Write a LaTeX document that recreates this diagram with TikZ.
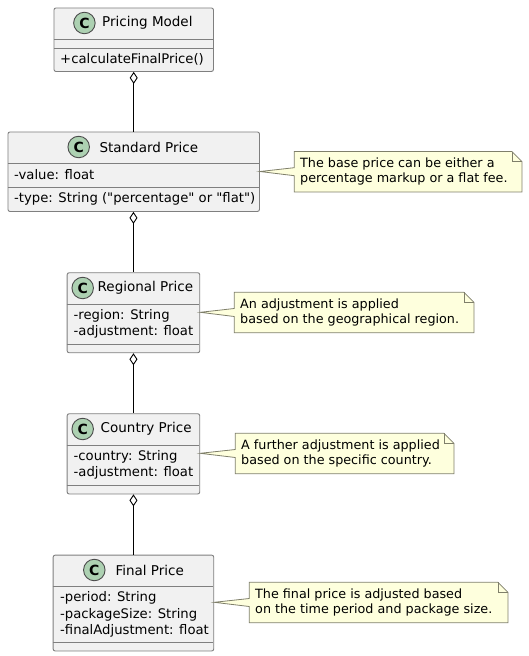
\documentclass[tikz,border=0pt]{standalone}
\usepackage{fontspec}
\newfontfamily\umlfont{DejaVu Sans}
\usetikzlibrary{arrows.meta,calc}
\definecolor{classfill}{HTML}{F1F1F1}
\definecolor{classline}{HTML}{7F7F7F}
\definecolor{spotfill}{HTML}{ADD1B2}
\definecolor{notefill}{HTML}{FEFFDD}
\definecolor{noteline}{HTML}{7F7F6A}
\tikzset{
    classbox/.style={draw=classline,fill=classfill,rounded corners=2pt,line width=.9pt,inner sep=0pt},
    classline/.style={draw=classline,line width=.9pt},
    spot/.style={circle,draw=black!70,fill=spotfill,line width=.9pt,minimum size=21.5pt,inner sep=0pt,font=\umlfont\fontsize{14}{14}\selectfont\bfseries},
    title/.style={font=\umlfont\fontsize{13.5}{16}\selectfont,inner sep=0pt,anchor=west},
    member/.style={font=\umlfont\fontsize{13.2}{16.3}\selectfont,inner sep=0pt,anchor=west,align=left},
    notetext/.style={font=\umlfont\fontsize{12.75}{15.2}\selectfont,inner sep=0pt,anchor=west,align=left},
    notebox/.style={inner sep=0pt},
    notepath/.style={draw=noteline,fill=notefill,line width=.8pt},
    aggregate/.style={{Diamond[open,length=12pt,width=8pt,fill=white]}-,line width=.9pt}
}
% name, x1, y1, x2, y2, first divider, second divider
\newcommand{\ClassBox}[7]{
    \node[classbox,minimum width=#4pt-#2pt,minimum height=#5pt-#3pt,anchor=north west] (#1) at (#2,#3) {};
    \draw[classline] (#2,#6) -- (#4,#6);
    \draw[classline] (#2,#7) -- (#4,#7);
}
% name, class, x1, y1, x2, y2, tip y
\newcommand{\NoteBox}[7]{
    \node[notebox,minimum width=#5pt-#3pt,minimum height=#6pt-#4pt,anchor=north west] (#1) at (#3,#4) {};
    \coordinate (#1tip) at (#2.east |- 0,#7);
    \path[notepath] (#1.north west) -- ($(#1.north east)+(-10,0)$) -- ($(#1.north east)+(0,10)$)
        -- (#1.south east) -- (#1.south west) -- ($(#1.west)+(0,4)$) -- (#1tip)
        -- ($(#1.west)+(0,-4)$) -- cycle;
    \draw[notepath,fill=none] ($(#1.north east)+(-10,0)$) -- ($(#1.north east)+(-10,10)$) -- ($(#1.north east)+(0,10)$);
}
\begin{document}
\begin{tikzpicture}[x=1pt,y=-1pt]
    \useasboundingbox (0,0) rectangle (528,656);

    \ClassBox{pricing}{53.5}{7.5}{213}{71}{39}{48}
    \ClassBox{standard}{7.5}{131.5}{259}{211}{163.5}{187}
    \ClassBox{regional}{66.7}{272.3}{199.3}{352.3}{304.3}{344.3}
    \ClassBox{country}{66.7}{413.3}{199.3}{493.5}{445.3}{485.3}
    \ClassBox{final}{52.7}{554.7}{213.3}{650.5}{586.7}{642.3}

    \node[spot] (spot1) at (84.4,23) {C};
    \node[spot] (spot2) at (78.7,147) {C};
    \node[spot] (spot3) at (82.7,288) {C};
    \node[spot] (spot4) at (82.7,429) {C};
    \node[spot] (spot5) at (94.3,570) {C};

    \node[title] (title1) at (102,23) {Pricing Model};
    \node[title] (title2) at (99.3,147) {Standard Price};
    \node[title] (title3) at (97.5,288) {Regional Price};
    \node[title] (title4) at (100.5,429) {Country Price};
    \node[title] (title5) at (115.3,570) {Final Price};

    \node[member] (member1) at (60,59) {+calculateFinalPrice()};
    \node[member] (member2a) at (14,175) {-value: float};
    \node[member] (member2b) at (14,199) {-type: String ("percentage" or "flat")};
    \node[member] (member3) at (73.5,323.7) {-region: String\\-adjustment: float};
    \node[member] (member4) at (73.5,464.7) {-country: String\\-adjustment: float};
    \node[member] (member5) at (60,614.5) {-period: String\\-packageSize: String\\-finalAdjustment: float};

    \draw[aggregate] (pricing.south) -- (standard.north);
    \draw[aggregate] (standard.south -| regional.north) -- (regional.north);
    \draw[aggregate] (regional.south) -- (country.north);
    \draw[aggregate] (country.south) -- (final.north);

    \NoteBox{note1}{standard}{294.3}{151.5}{521.5}{191.5}{171.5}
    \NoteBox{note2}{regional}{234.3}{292.3}{473.5}{332.3}{312.3}
    \NoteBox{note3}{country}{235.3}{433.3}{453.5}{473.3}{453.3}
    \NoteBox{note4}{final}{249.3}{582.3}{507.5}{622.3}{602.3}

    \node[notetext] (text1) at (300,171.5) {The base price can be either a\\percentage markup or a flat fee.};
    \node[notetext] (text2) at (240,312.5) {An adjustment is applied\\based on the geographical region.};
    \node[notetext] (text3) at (241,453.3) {A further adjustment is applied\\based on the specific country.};
    \node[notetext] (text4) at (255,602.5) {The final price is adjusted based\\on the time period and package size.};
\end{tikzpicture}
\end{document}
